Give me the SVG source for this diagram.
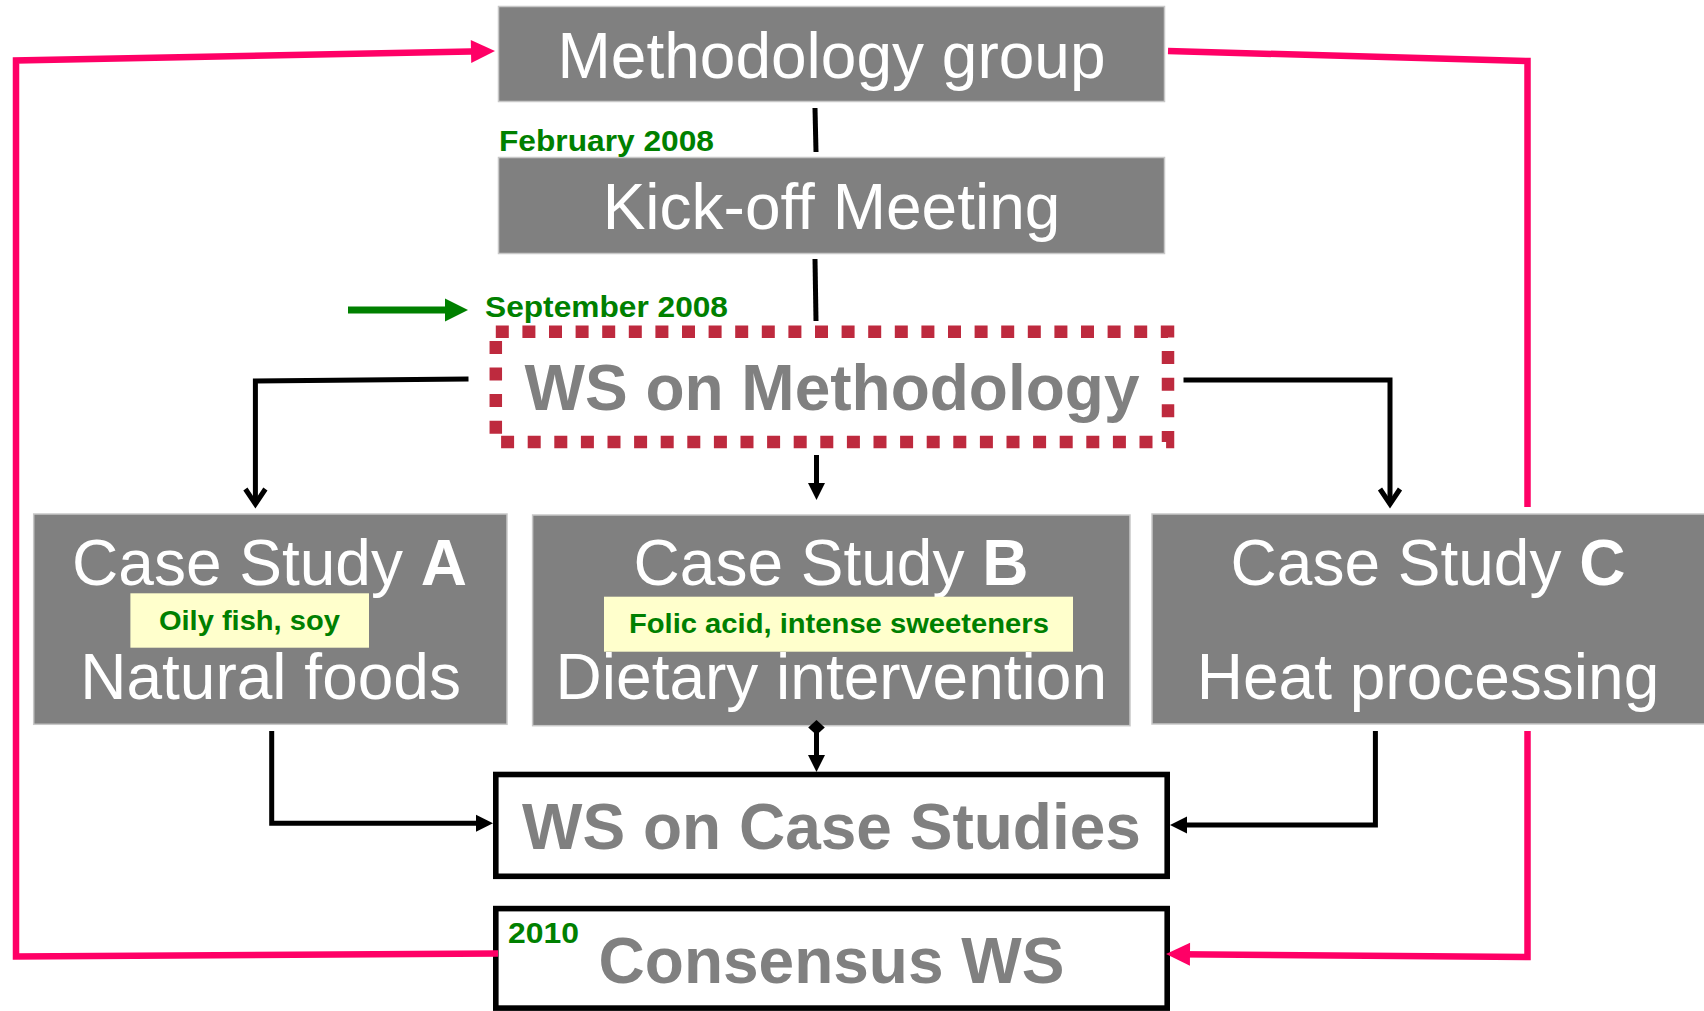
<svg xmlns="http://www.w3.org/2000/svg" width="1704" height="1011" viewBox="0 0 1704 1011">
<style>
.gbox{fill:#808080;stroke:#c8c8c8;stroke-width:1.5}
.wbox{fill:#ffffff;stroke:#000000;stroke-width:5.6}
.wt{font-family:"Liberation Sans",Arial,sans-serif;font-size:64px;fill:#ffffff;text-anchor:middle}
.gt{font-family:"Liberation Sans",Arial,sans-serif;font-size:64px;font-weight:bold;fill:#808080;text-anchor:middle}
.green{font-family:"Liberation Sans",Arial,sans-serif;font-weight:bold;fill:#008000}
.label{fill:#ffffcc}
.blk{fill:none;stroke:#000000;stroke-width:5}
.pink{fill:none;stroke:#ff0066;stroke-width:6.5}
</style>
<defs>
<marker id="tri" markerUnits="userSpaceOnUse" markerWidth="17" markerHeight="17" refX="11" refY="8.5" orient="auto" overflow="visible">
<path d="M0,0 L17,8.5 L0,17 z" fill="#000000"/>
</marker>
<marker id="vee" markerUnits="userSpaceOnUse" markerWidth="24" markerHeight="24" refX="16" refY="12" orient="auto" overflow="visible">
<path d="M1,2 L16,12 L1,22" fill="none" stroke="#000000" stroke-width="5"/>
</marker>
<marker id="dia" markerUnits="userSpaceOnUse" markerWidth="16" markerHeight="17" refX="7.5" refY="8.3" orient="auto" overflow="visible">
<path d="M0,8.3 L7.5,0 L15,8.3 L7.5,16.6 z" fill="#000000"/>
</marker>
<marker id="pinkArr" markerUnits="userSpaceOnUse" markerWidth="24" markerHeight="23" refX="12" refY="11.5" orient="auto" overflow="visible">
<path d="M0,0 L24,11.5 L0,23 z" fill="#ff0066"/>
</marker>
<marker id="greenArr" markerUnits="userSpaceOnUse" markerWidth="23" markerHeight="23" refX="11" refY="11.5" orient="auto" overflow="visible">
<path d="M0,0 L23,11.5 L0,23 z" fill="#008000"/>
</marker>
</defs>

<g id="methodology-group">
<rect class="gbox" x="498.5" y="6.5" width="666" height="95"/>
<text class="wt" x="831.5" y="78.3">Methodology group</text>
</g>
<g id="kickoff">
<rect class="gbox" x="498.5" y="157.5" width="666" height="96"/>
<text class="wt" x="831.5" y="229.3">Kick-off Meeting</text>
</g>
<g id="date-feb">
<text class="green" x="499" y="150.7" font-size="30" textLength="215" lengthAdjust="spacingAndGlyphs">February 2008</text>
</g>
<g id="date-sep">
<text class="green" x="485" y="316.7" font-size="30" textLength="243" lengthAdjust="spacingAndGlyphs">September 2008</text>
</g>
<g id="ws-methodology">
<rect x="495.8" y="331.7" width="672.2" height="110.3" fill="none" stroke="#be2a3e" stroke-width="12.5" stroke-dasharray="13 13.6"/>
<text class="gt" x="832" y="410">WS on Methodology</text>
</g>
<g id="case-a">
<rect class="gbox" x="33.7" y="514" width="473.3" height="210.3"/>
<text class="wt" x="269.5" y="585">Case Study <tspan font-weight="bold">A</tspan></text>
<rect class="label" x="130.4" y="593.3" width="238.6" height="54.4"/>
<text class="green" x="249.4" y="630" font-size="28" text-anchor="middle" textLength="181" lengthAdjust="spacingAndGlyphs">Oily fish, soy</text>
<text class="wt" x="270.6" y="699.3">Natural foods</text>
</g>
<g id="case-b">
<rect class="gbox" x="532.6" y="515" width="597.4" height="210.7"/>
<text class="wt" x="831" y="585">Case Study <tspan font-weight="bold">B</tspan></text>
<rect class="label" x="604" y="596.7" width="469" height="55"/>
<text class="green" x="838.9" y="633.3" font-size="28" text-anchor="middle" textLength="420" lengthAdjust="spacingAndGlyphs">Folic acid, intense sweeteners</text>
<text class="wt" x="831.3" y="699.3">Dietary intervention</text>
</g>
<g id="case-c">
<rect class="gbox" x="1152" y="514" width="560" height="210"/>
<text class="wt" x="1428" y="585">Case Study <tspan font-weight="bold">C</tspan></text>
<text class="wt" x="1428" y="699.3">Heat processing</text>
</g>
<g id="ws-case-studies">
<rect class="wbox" x="495.8" y="774.5" width="671.4" height="101.8"/>
<text class="gt" x="831.5" y="849">WS on Case Studies</text>
</g>
<g id="consensus-ws">
<rect class="wbox" x="495.8" y="908.6" width="671.4" height="99.5"/>
<text class="green" x="508" y="942.7" font-size="30" textLength="71" lengthAdjust="spacingAndGlyphs">2010</text>
<text class="gt" x="831.5" y="983">Consensus WS</text>
</g>

<g id="connectors">
<path class="blk" d="M815 108 L816 152"/>
<path class="blk" d="M815 259 L816 321"/>
<path class="blk" d="M468.5 379 L255.4 381 L255.4 504" marker-end="url(#vee)"/>
<path class="blk" d="M816.5 455 L816.5 494" marker-end="url(#tri)"/>
<path class="blk" d="M1183.5 380 L1390 380 L1390 504" marker-end="url(#vee)"/>
<path class="blk" d="M271.7 731 L271.7 823.3 L487 823.3" marker-end="url(#tri)"/>
<path class="blk" d="M816.5 727.5 L816.5 766" marker-start="url(#dia)" marker-end="url(#tri)"/>
<path class="blk" d="M1375.4 731 L1375.4 825 L1176 825" marker-end="url(#tri)"/>
<path d="M348 310 L456 310" fill="none" stroke="#008000" stroke-width="7" marker-end="url(#greenArr)"/>
<path class="pink" d="M498 953.5 L16 956.5 L16 60.5 L483 51.2" marker-end="url(#pinkArr)"/>
<path class="pink" d="M1168 51 L1527.5 61 L1527.5 507"/>
<path class="pink" d="M1527.5 731 L1527.5 957 L1178 954.2" marker-end="url(#pinkArr)"/>
</g>
</svg>
